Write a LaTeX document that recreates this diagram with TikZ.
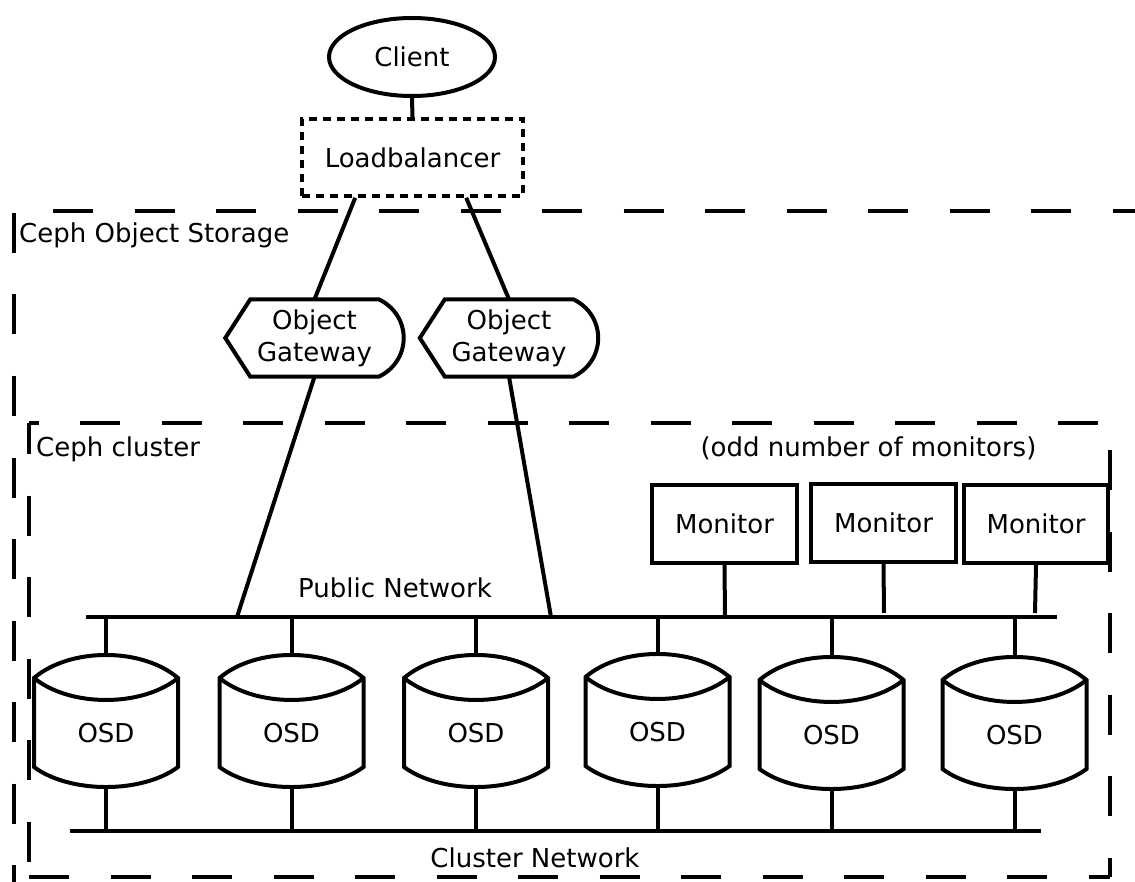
\documentclass[tikz,border=0pt]{standalone}
\usepackage{fontspec}
\setmainfont{DejaVu Sans}
\usetikzlibrary{shapes.geometric,calc}
\begin{document}
\begin{tikzpicture}[x=1pt,y=-1pt,
  font=\fontsize{26}{32}\selectfont,
  shp/.style={draw, line width=4pt, line join=miter},
  lnk/.style={line width=4pt},
  bigdash/.style={line width=4pt, dash pattern=on 40pt off 41.5pt},
  lbl/.style={inner sep=0pt},
  mon/.style={draw, rectangle, line width=4pt, minimum width=145pt, minimum height=78pt, inner sep=0pt},
  gw/.style={inner sep=0pt, align=center, minimum width=178pt, minimum height=77pt},
  osdtext/.style={inner sep=0pt}
]
\useasboundingbox[fill=white] (0,0) rectangle (1135,882);

% outer box: Ceph Object Storage
\coordinate (otl) at (14,211);
\coordinate (otr) at (1140,211);
\coordinate (obl) at (14,883.5);
\coordinate (obr) at (1140,883.5);
\draw[bigdash, dash phase=42.5pt] (otl) -- (otr);
\draw[bigdash, dash phase=79.5pt] (otl) -- (obl);
\draw[bigdash, dash phase=0pt] (obl) -- (obr);
\draw[bigdash] (otr) -- (obr);
\node[lbl, anchor=base west] (cos) at (19,243) {Ceph Object Storage};

% inner box: Ceph cluster
\coordinate (itl) at (29,423);
\coordinate (itr) at (1110,423);
\coordinate (ibl) at (29,877);
\coordinate (ibr) at (1110,877);
\draw[bigdash, dash phase=30.5pt] (itl) -- (itr);
\draw[bigdash, dash phase=54.5pt] (itr) -- (ibr);
\draw[bigdash, dash phase=0pt] (ibl) -- (ibr);
\draw[bigdash, dash phase=9pt] (itl) -- (ibl);
\node[lbl, anchor=base west] (cc) at (36,456) {Ceph cluster};
\node[lbl, anchor=base] (odd) at (868.5,456) {(odd number of monitors)};

% client and load balancer
\node[draw, ellipse, line width=4pt, minimum width=166pt, minimum height=78pt, inner sep=0pt] (client) at (412,57) {Client};
\node[draw, rectangle, line width=3.6pt, dash pattern=on 8pt off 6pt, minimum width=221pt, minimum height=77pt, inner sep=0pt] (lb) at (412.5,157.5) {Loadbalancer};
\draw[lnk] (client.south) -- (lb.north);

% gateways
\node[gw] (gw1) at (314.5,338) {Object\\Gateway};
\node[gw] (gw2) at (509,338) {Object\\Gateway};
\foreach \g in {gw1,gw2}{
  \draw[shp] (\g.west) -- ($(\g.north west)+(25,0)$) -- ($(\g.north east)+(-25,0)$)
    .. controls ($(\g.north east)+(-10,7)$) and ($(\g.east)+(0,-17)$) .. (\g.east)
    .. controls ($(\g.east)+(0,17)$) and ($(\g.south east)+(-10,-7)$) .. ($(\g.south east)+(-25,0)$)
    -- ($(\g.south west)+(25,0)$) -- cycle;
}
\coordinate (lbg1) at ($(lb.south west)+(55,0)$);
\coordinate (lbg2) at ($(lb.south west)+(166,0)$);
\draw[lnk] (lbg1) -- (gw1.north);
\draw[lnk] (lbg2) -- (gw2.north);

% networks
\coordinate (pubL) at (86,617);
\coordinate (pubR) at (1057,617);
\coordinate (cluL) at (70,831);
\coordinate (cluR) at (1041,831);
\draw[lnk] (pubL) -- (pubR);
\draw[lnk] (cluL) -- (cluR);
\node[lbl, anchor=base] (pubtxt) at (395,597) {Public Network};
\node[lbl, anchor=base] (clutxt) at (535,867) {Cluster Network};

\coordinate (pg1) at (237,617);
\coordinate (pg2) at (551,617);
\draw[lnk] (gw1.south) -- (pg1);
\draw[lnk] (gw2.south) -- (pg2);

% monitors
\node[mon] (m1) at (724.5,524) {Monitor};
\node[mon] (m2) at (883.5,522.5) {Monitor};
\node[mon, minimum width=144pt] (m3) at (1036,524) {Monitor};
\coordinate (pm1) at (725,617);
\coordinate (pm2) at (884,613);
\coordinate (pm3) at (1035,613);
\draw[lnk] (m1.south) -- (pm1);
\draw[lnk] (m2.south) -- (pm2);
\draw[lnk] (m3.south) -- (pm3);

% OSDs
\foreach \i/\x/\y in {1/106/733, 2/291.5/733, 3/476/733, 4/657.5/732, 5/831.5/735, 6/1014.5/735}{
  \node[osdtext] (osd\i) at (\x,\y) {OSD};
  \draw[shp] ($(osd\i)+(-72,-55)$)
      .. controls ($(osd\i)+(-36,-85.7)$) and ($(osd\i)+(36,-85.7)$) .. ($(osd\i)+(72,-55)$)
      -- ($(osd\i)+(72,34)$)
      .. controls ($(osd\i)+(36,60.7)$) and ($(osd\i)+(-36,60.7)$) .. ($(osd\i)+(-72,34)$)
      -- cycle;
  \draw[shp] ($(osd\i)+(-72,-55)$)
      .. controls ($(osd\i)+(-36,-25.7)$) and ($(osd\i)+(36,-25.7)$) .. ($(osd\i)+(72,-55)$);
  \coordinate (osdt\i) at ($(osd\i)+(0,-78)$);
  \coordinate (osdb\i) at ($(osd\i)+(0,54)$);
  \coordinate (p\i) at (\x,617);
  \coordinate (c\i) at (\x,831);
  \draw[lnk] (p\i) -- (osdt\i);
  \draw[lnk] (osdb\i) -- (c\i);
}
\end{tikzpicture}
\end{document}
